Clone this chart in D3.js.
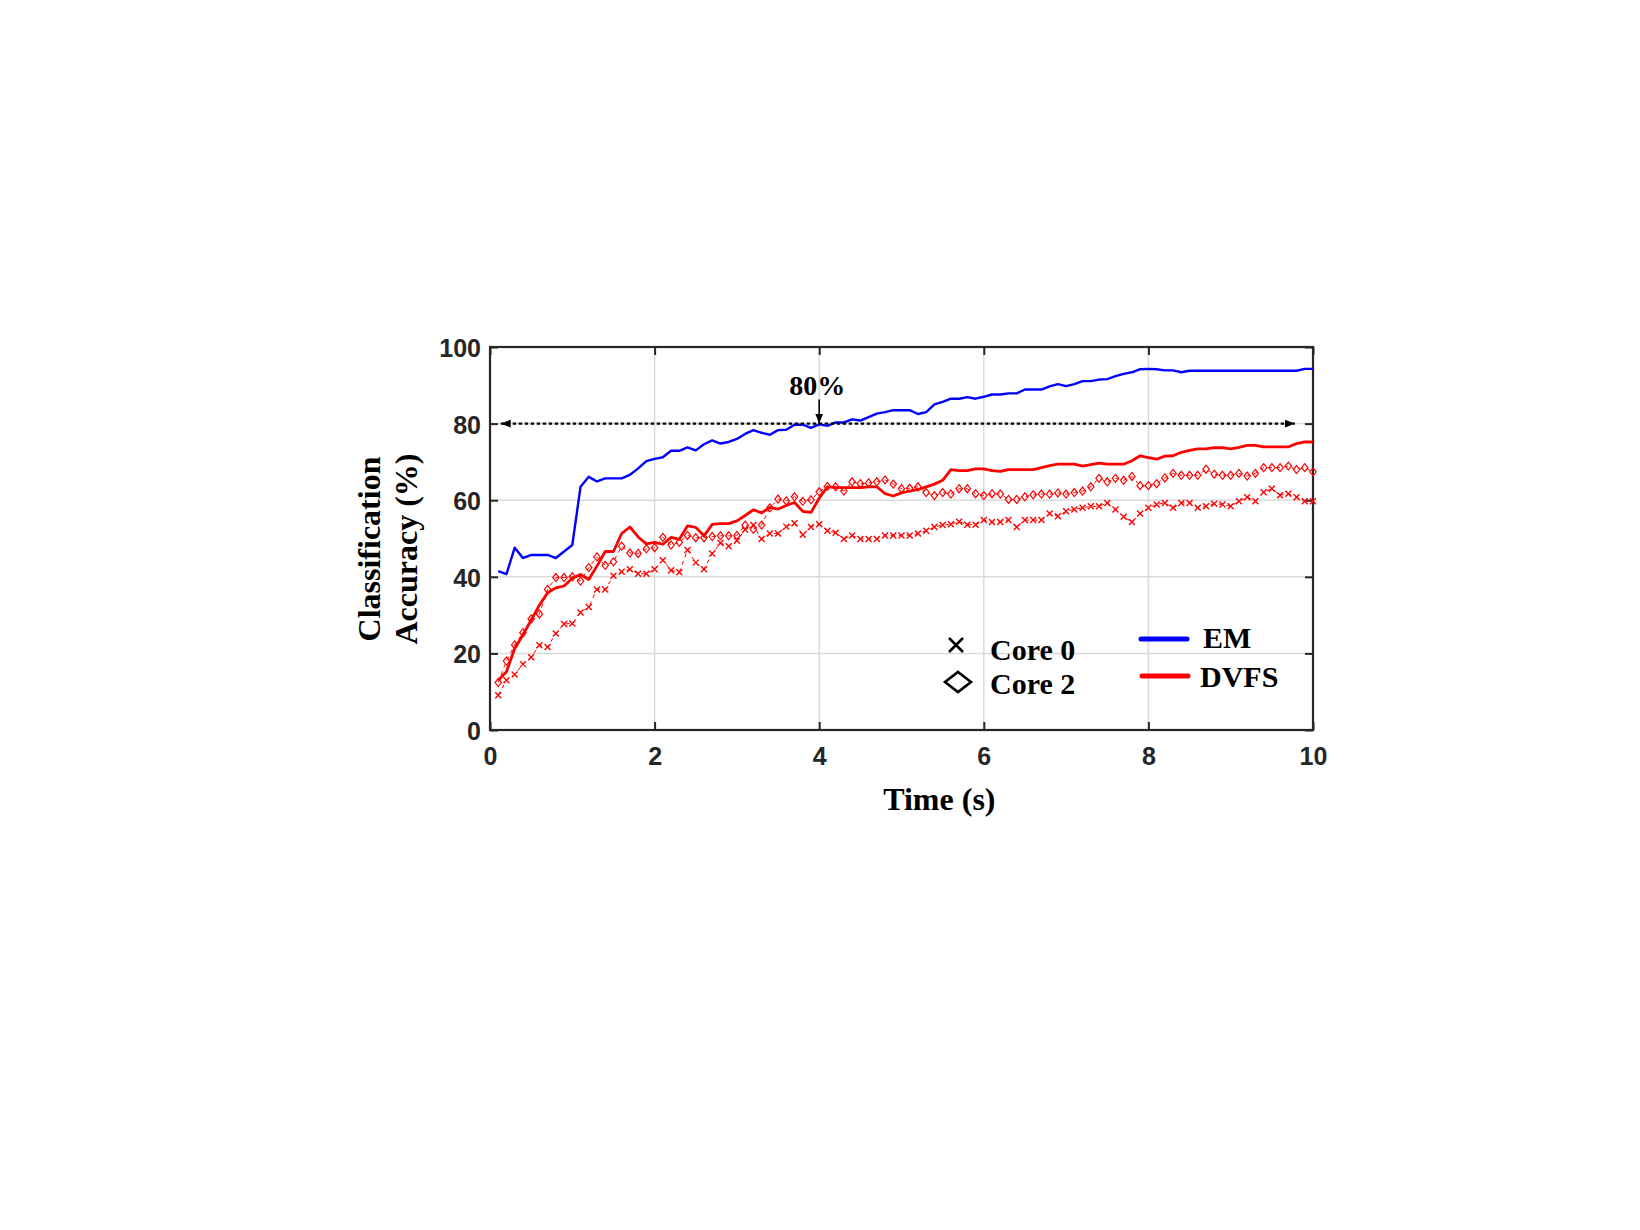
<!DOCTYPE html>
<html>
<head>
<meta charset="utf-8">
<script src="https://cdn.jsdelivr.net/npm/d3@7"></script>
<style>
  html, body { margin: 0; padding: 0; background: #fff; }
  svg { display: block; }
</style>
</head>
<body>
<div id="vis"></div>
<script>
/* Datos (muestras cada 0.1 s) */
const time = d3.range(1, 101).map(i => i / 10);

const emAcc = [
  41.5, 40.7, 47.6, 44.9, 45.7, 45.7, 45.7, 44.9, 46.6, 48.3,
  63.5, 66.1, 64.9, 65.7, 65.7, 65.7, 66.6, 68.3, 70.2, 70.8,
  71.2, 72.9, 72.9, 73.8, 73.0, 74.6, 75.6, 74.8, 75.2, 76.0,
  77.3, 78.3, 77.6, 77.1, 78.3, 78.4, 79.7, 79.7, 78.9, 79.8,
  79.4, 80.3, 80.3, 81.1, 80.8, 81.7, 82.6, 83.0, 83.5, 83.5,
  83.5, 82.5, 83.0, 85.0, 85.7, 86.5, 86.5, 86.9, 86.5, 87.0,
  87.6, 87.6, 87.9, 87.9, 88.9, 88.9, 88.9, 89.7, 90.3, 89.8,
  90.3, 91.1, 91.1, 91.5, 91.6, 92.4, 93.0, 93.4, 94.2, 94.3,
  94.2, 93.9, 93.9, 93.4, 93.8, 93.8, 93.8, 93.8, 93.8, 93.8,
  93.8, 93.8, 93.8, 93.8, 93.8, 93.8, 93.8, 93.8, 94.3, 94.3
];

const dvfsAcc = [
  13.0, 15.2, 21.3, 24.8, 28.7, 32.6, 35.8, 37.1, 37.6, 39.6,
  40.6, 39.3, 42.8, 46.6, 46.6, 51.3, 53.0, 50.4, 48.6, 49.0,
  48.5, 50.3, 49.8, 53.3, 52.9, 50.7, 53.7, 53.9, 53.9, 54.6,
  56.0, 57.5, 56.7, 58.1, 57.7, 58.6, 59.4, 57.1, 56.8, 60.5,
  63.5, 63.3, 63.3, 63.3, 63.3, 63.5, 63.5, 61.7, 61.1, 61.9,
  62.4, 62.8, 63.5, 64.2, 65.2, 68.0, 67.7, 67.7, 68.2, 68.2,
  67.7, 67.5, 68.0, 68.0, 68.0, 68.0, 68.5, 69.0, 69.4, 69.4,
  69.4, 68.9, 69.3, 69.7, 69.4, 69.4, 69.4, 70.3, 71.6, 71.1,
  70.7, 71.5, 71.6, 72.5, 73.0, 73.4, 73.4, 73.7, 73.7, 73.4,
  73.8, 74.3, 74.3, 73.9, 73.9, 73.9, 73.9, 74.8, 75.2, 75.2
];

const core0Acc = [
  9.1, 13.0, 14.5, 17.2, 19.0, 22.1, 21.7, 25.2, 27.7, 27.8,
  30.7, 32.1, 36.7, 36.7, 40.3, 41.3, 42.0, 40.8, 40.8, 42.0,
  44.3, 41.7, 41.2, 47.0, 43.7, 42.0, 46.1, 48.8, 48.0, 49.4,
  52.3, 53.5, 49.9, 51.3, 51.3, 53.1, 54.0, 51.0, 53.0, 53.7,
  52.0, 51.5, 49.9, 50.8, 49.9, 49.9, 49.9, 50.8, 50.8, 50.8,
  50.8, 51.3, 52.0, 53.0, 53.5, 53.7, 54.4, 53.6, 53.6, 54.8,
  54.3, 54.3, 54.8, 53.0, 54.8, 54.8, 54.8, 56.5, 55.8, 57.1,
  57.6, 58.0, 58.4, 58.4, 59.3, 57.6, 55.7, 54.3, 56.5, 58.0,
  58.9, 59.3, 58.0, 59.3, 59.3, 58.0, 58.4, 59.1, 58.9, 58.4,
  59.7, 60.8, 59.7, 62.1, 63.0, 61.3, 61.7, 60.8, 59.7, 59.7
];

const core2Acc = [
  12.4, 18.0, 22.2, 25.4, 29.0, 30.3, 36.7, 39.8, 39.8, 40.0,
  38.9, 42.4, 45.2, 43.0, 43.9, 48.0, 46.2, 46.1, 47.3, 47.6,
  50.3, 48.3, 49.0, 50.8, 50.2, 50.2, 50.5, 50.7, 50.7, 50.8,
  53.5, 52.4, 53.5, 58.0, 60.3, 59.8, 60.9, 59.7, 60.1, 62.2,
  63.6, 63.5, 62.4, 64.8, 64.3, 64.5, 64.8, 65.3, 64.2, 63.0,
  63.1, 63.5, 62.0, 61.2, 62.0, 61.6, 63.0, 63.0, 61.7, 61.2,
  61.7, 61.6, 60.2, 60.2, 60.9, 61.4, 61.6, 61.6, 61.9, 61.6,
  62.0, 62.4, 63.5, 65.7, 64.8, 65.7, 65.2, 66.2, 63.8, 63.8,
  64.3, 65.8, 67.0, 66.5, 66.5, 66.5, 68.1, 66.8, 66.5, 66.5,
  67.0, 66.3, 67.0, 68.5, 68.5, 68.5, 68.9, 68.0, 68.5, 67.4
];

const xTicks = [0, 2, 4, 6, 8, 10];
const yTicks = [0, 20, 40, 60, 80, 100];

// Anotación de 80 %
const thresholdValue = 80;
const thresholdSpan = [0.13, 9.78];
const thresholdMarkTime = 4.0;
const thresholdLabel = "80%";

/* Tamaños */
const WIDTH = 1640;
const HEIGHT = 1230;
const margin = { top: 347, right: 327, bottom: 500, left: 490 };
const width = WIDTH - margin.left - margin.right;
const height = HEIGHT - margin.top - margin.bottom;

const sansFont = "'Liberation Sans', Arial, Helvetica, sans-serif";
const serifFont = "'Liberation Serif', 'Times New Roman', Times, serif";
const axisColor = "#262626";

const svg = d3.select("#vis").append("svg")
  .attr("width", WIDTH)
  .attr("height", HEIGHT);

const defs = svg.append("defs");
defs.append("marker")
  .attr("id", "arrowHead")
  .attr("viewBox", "0 0 10 10")
  .attr("refX", 10).attr("refY", 5)
  .attr("markerWidth", 10).attr("markerHeight", 10)
  .attr("markerUnits", "userSpaceOnUse")
  .attr("orient", "auto-start-reverse")
  .append("path")
  .attr("d", "M0,1 L10,5 L0,9 Z")
  .attr("fill", "#000");

const g = svg.append("g")
  .attr("transform", `translate(${margin.left}, ${margin.top})`);

const x = d3.scaleLinear().domain([0, 10]).range([0, width]);
const y = d3.scaleLinear().domain([0, 100]).range([height, 0]);

// Grilla
g.append("g").selectAll("line")
  .data(xTicks.slice(1, -1))
  .join("line")
  .attr("x1", d => x(d)).attr("x2", d => x(d))
  .attr("y1", 0).attr("y2", height)
  .attr("stroke", "#dadada")
  .attr("stroke-width", 1.5);

g.append("g").selectAll("line")
  .data(yTicks.slice(1, -1))
  .join("line")
  .attr("x1", 0).attr("x2", width)
  .attr("y1", d => y(d)).attr("y2", d => y(d))
  .attr("stroke", "#dadada")
  .attr("stroke-width", 1.5);

// Ejes (ticks hacia adentro)
const tickLen = 8;
const xAxis = d3.axisBottom(x).tickValues(xTicks).tickSize(-tickLen).tickPadding(17).tickFormat(d3.format("d"));
const yAxis = d3.axisLeft(y).tickValues(yTicks).tickSize(-tickLen).tickPadding(9).tickFormat(d3.format("d"));

function styleAxis(sel) {
  sel.select(".domain").remove();
  sel.selectAll("line").attr("stroke", axisColor).attr("stroke-width", 2);
  sel.selectAll("text")
    .attr("fill", axisColor)
    .style("font-family", sansFont)
    .style("font-weight", "bold")
    .style("font-size", "25px");
}

g.append("g").attr("transform", `translate(0, ${height})`).call(xAxis).call(styleAxis);
g.append("g").call(yAxis).call(styleAxis)
  .selectAll("text").attr("dy", "0.38em");
g.append("g").call(d3.axisTop(x).tickValues(xTicks).tickSize(-tickLen).tickFormat(""))
  .call(styleAxis);
g.append("g").attr("transform", `translate(${width}, 0)`)
  .call(d3.axisRight(y).tickValues(yTicks).tickSize(-tickLen).tickFormat(""))
  .call(styleAxis);

g.append("rect")
  .attr("width", width).attr("height", height)
  .attr("fill", "none")
  .attr("stroke", axisColor)
  .attr("stroke-width", 2.2);

// Series
const line = d3.line()
  .x(d => x(d[0]))
  .y(d => y(d[1]));

const zipT = arr => time.map((t, i) => [t, arr[i]]);

// Core 0 (×)
g.append("path")
  .datum(zipT(core0Acc))
  .attr("d", line)
  .attr("fill", "none")
  .attr("stroke", "#ff0000")
  .attr("stroke-width", 1)
  .attr("stroke-dasharray", "4,4");

g.append("g").selectAll("path")
  .data(zipT(core0Acc))
  .join("path")
  .attr("transform", d => `translate(${x(d[0])}, ${y(d[1])})`)
  .attr("d", "M-3,-3 L3,3 M-3,3 L3,-3")
  .attr("stroke", "#ff0000")
  .attr("stroke-width", 1.4)
  .attr("fill", "none");

// Core 2 (◇)
g.append("path")
  .datum(zipT(core2Acc))
  .attr("d", line)
  .attr("fill", "none")
  .attr("stroke", "#ff0000")
  .attr("stroke-width", 1)
  .attr("stroke-dasharray", "4,4");

g.append("g").selectAll("path")
  .data(zipT(core2Acc))
  .join("path")
  .attr("transform", d => `translate(${x(d[0])}, ${y(d[1])})`)
  .attr("d", "M0,-4 L3.2,0 L0,4 L-3.2,0 Z")
  .attr("stroke", "#ff0000")
  .attr("stroke-width", 1.2)
  .attr("fill", "none");

// DVFS
g.append("path")
  .datum(zipT(dvfsAcc))
  .attr("d", line)
  .attr("fill", "none")
  .attr("stroke", "#ff0000")
  .attr("stroke-width", 2.8)
  .attr("stroke-linejoin", "round");

// EM
g.append("path")
  .datum(zipT(emAcc))
  .attr("d", line)
  .attr("fill", "none")
  .attr("stroke", "#0000ff")
  .attr("stroke-width", 2.4)
  .attr("stroke-linejoin", "round");

// Anotación 80 %
g.append("line")
  .attr("x1", x(thresholdSpan[0])).attr("x2", x(thresholdSpan[1]))
  .attr("y1", y(thresholdValue)).attr("y2", y(thresholdValue))
  .attr("stroke", "#000")
  .attr("stroke-width", 2.2)
  .attr("stroke-dasharray", "3.5,2.5")
  .attr("marker-start", "url(#arrowHead)")
  .attr("marker-end", "url(#arrowHead)");

g.append("line")
  .attr("x1", x(thresholdMarkTime)).attr("x2", x(thresholdMarkTime))
  .attr("y1", y(thresholdValue) - 24).attr("y2", y(thresholdValue))
  .attr("stroke", "#000")
  .attr("stroke-width", 1.6)
  .attr("marker-end", "url(#arrowHead)");

g.append("text")
  .attr("x", x(thresholdMarkTime) - 2)
  .attr("y", y(thresholdValue) - 29)
  .attr("text-anchor", "middle")
  .style("font-family", serifFont)
  .style("font-weight", "bold")
  .style("font-size", "28px")
  .text(thresholdLabel);

// Títulos de ejes
svg.append("text")
  .attr("x", margin.left + x(5.46))
  .attr("y", 810)
  .attr("text-anchor", "middle")
  .style("font-family", serifFont)
  .style("font-weight", "bold")
  .style("font-size", "32px")
  .text("Time (s)");

const yTitle = svg.append("text")
  .attr("transform", `translate(380, 549) rotate(-90)`)
  .attr("text-anchor", "middle")
  .style("font-family", serifFont)
  .style("font-weight", "bold")
  .style("font-size", "32px");
yTitle.append("tspan").attr("x", 0).attr("y", 0).text("Classification");
yTitle.append("tspan").attr("x", 0).attr("y", 37).text("Accuracy (%)");

// Leyenda
const legendFont = sel => sel
  .style("font-family", serifFont)
  .style("font-weight", "bold")
  .style("font-size", "30px")
  .attr("fill", "#000");

svg.append("path")
  .attr("transform", "translate(956, 645)")
  .attr("d", "M-7,-7 L7,7 M-7,7 L7,-7")
  .attr("stroke", "#000")
  .attr("stroke-width", 2.6);
svg.append("text").attr("x", 990).attr("y", 660).text("Core 0").call(legendFont);

svg.append("path")
  .attr("transform", "translate(958, 682)")
  .attr("d", "M0,-10 L13,0 L0,10 L-13,0 Z")
  .attr("stroke", "#000")
  .attr("stroke-width", 2.6)
  .attr("fill", "none");
svg.append("text").attr("x", 990).attr("y", 694).text("Core 2").call(legendFont);

svg.append("line")
  .attr("x1", 1141).attr("x2", 1187)
  .attr("y1", 639).attr("y2", 639)
  .attr("stroke", "#0000ff")
  .attr("stroke-width", 5)
  .attr("stroke-linecap", "round");
svg.append("text").attr("x", 1203).attr("y", 648).text("EM").call(legendFont);

svg.append("line")
  .attr("x1", 1142).attr("x2", 1188)
  .attr("y1", 676).attr("y2", 676)
  .attr("stroke", "#ff0000")
  .attr("stroke-width", 5)
  .attr("stroke-linecap", "round");
svg.append("text").attr("x", 1200).attr("y", 687).text("DVFS").call(legendFont);
</script>
</body>
</html>
